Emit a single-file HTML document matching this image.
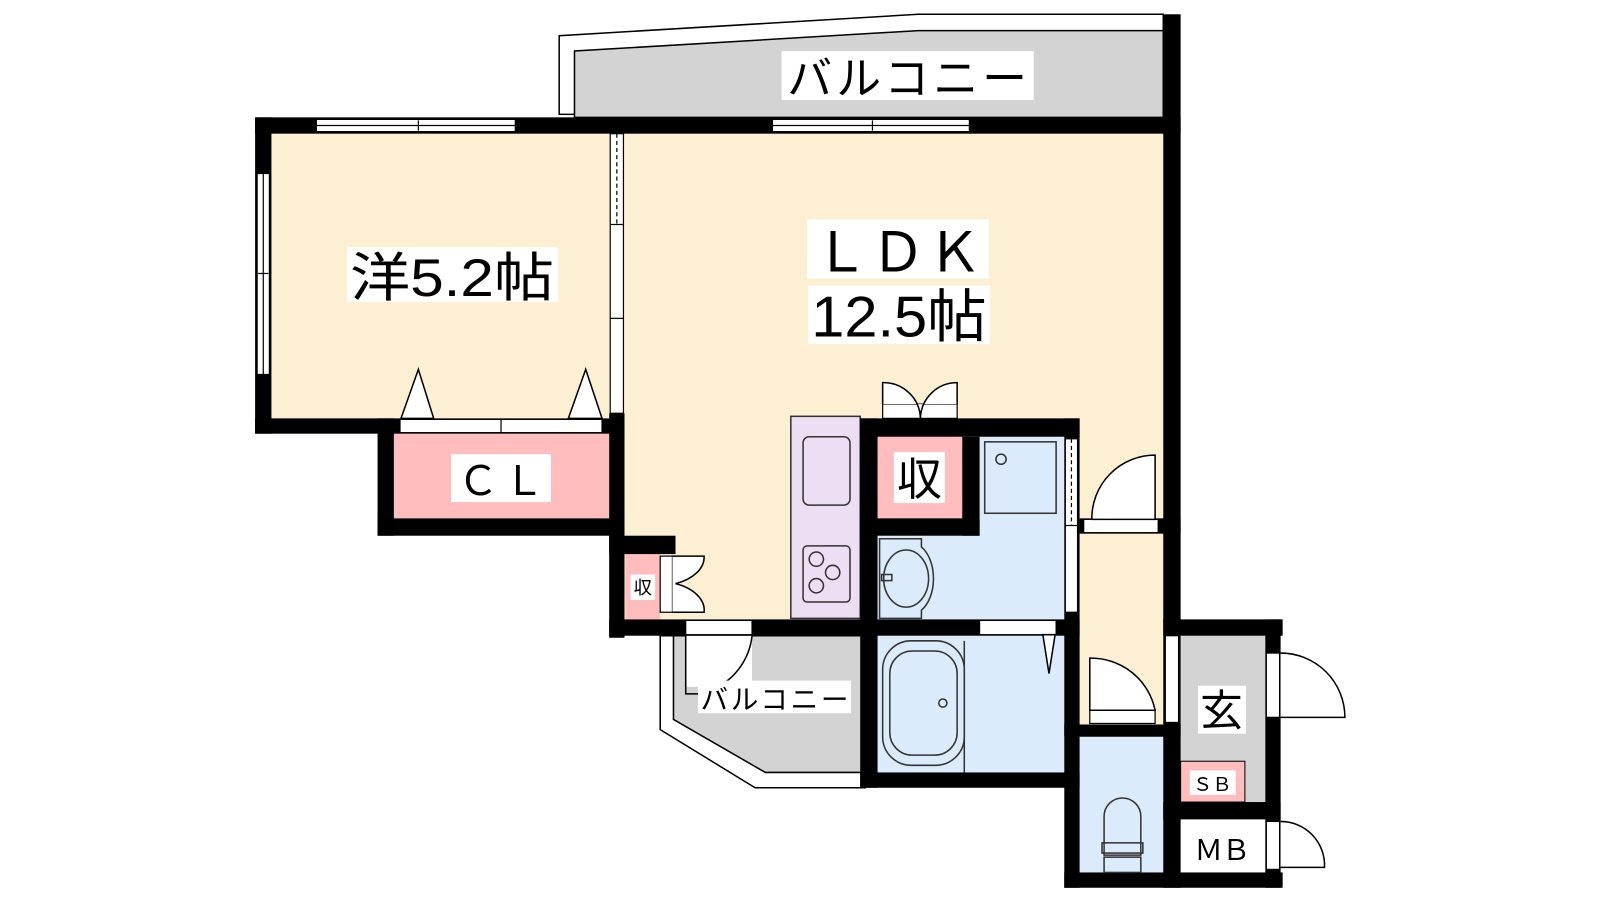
<!DOCTYPE html>
<html><head><meta charset="utf-8"><style>
html,body{margin:0;padding:0;background:#fff;}
svg{display:block}
text{font-family:"Liberation Sans","Noto Sans CJK JP",sans-serif;fill:#000}
</style></head><body>
<svg width="1600" height="900" viewBox="0 0 1568 882" preserveAspectRatio="none" xmlns="http://www.w3.org/2000/svg">
<!-- top balcony -->
<polygon points="548,112 548,35 900,14 1140,14 1140,115" fill="#fff" stroke="#000" stroke-width="1.5"/>
<polygon points="563,115 563,50 900,30 1140,30 1140,115" fill="#d3d3d3" stroke="#000" stroke-width="1.5"/>
<rect x="766" y="50" width="247" height="48" fill="#fff"/>
<text x="889" y="92" font-size="44" text-anchor="middle" textLength="235">バルコニー</text>

<!-- lower balcony -->
<polygon points="647,623 647,715 740,772 848,772 848,623" fill="#fff" stroke="#000" stroke-width="1.5"/>
<polygon points="660,623 660,705 750,757 848,757 848,623" fill="#d3d3d3" stroke="#000" stroke-width="1.5"/>
<rect x="672" y="623" width="65" height="50" fill="#fff"/>
<path d="M672,623 L672,680 L685,680 M737,623 A65,65 0 0 1 700,675" fill="none" stroke="#000" stroke-width="1.5"/>
<rect x="684" y="667" width="150" height="32" fill="#fff"/>
<text x="759" y="695" font-size="27" text-anchor="middle" textLength="145">バルコニー</text>

<!-- floors -->
<rect x="266" y="131" width="331" height="279" fill="#fdf0d2"/>
<rect x="612" y="131" width="528" height="476" fill="#fdf0d2"/>
<rect x="1058" y="508" width="82" height="202" fill="#fdf0d2"/>
<rect x="386" y="425" width="211" height="83" fill="#ffbdbd"/>
<rect x="613" y="543" width="34" height="64" fill="#ffbdbd"/>
<rect x="860" y="428" width="83" height="80" fill="#ffbdbd"/>
<path d="M960,428 H1043 V607 H860 V525 H960 Z" fill="#dcebfc"/>
<rect x="860" y="623" width="183" height="134" fill="#dcebfc"/>
<rect x="1058" y="722" width="82" height="133" fill="#dcebfc"/>
<rect x="1157" y="623" width="83" height="163" fill="#d3d3d3"/>
<rect x="1157" y="746" width="63" height="40" fill="#ffbdbd" stroke="#000" stroke-width="1"/>
<rect x="1157" y="803" width="83" height="52" fill="#fff"/>
<rect x="775" y="408" width="68" height="198" fill="#ecdff3" stroke="#333" stroke-width="1.5"/>
<rect x="787" y="428" width="46" height="67" rx="6" fill="none" stroke="#333" stroke-width="1.5"/>
<rect x="787" y="535" width="46" height="55" rx="4" fill="none" stroke="#333" stroke-width="1.5"/>
<circle cx="800" cy="548" r="7" fill="none" stroke="#333" stroke-width="1.5"/>
<circle cx="816" cy="561" r="7" fill="none" stroke="#333" stroke-width="1.5"/>
<circle cx="800" cy="574" r="7" fill="none" stroke="#333" stroke-width="1.5"/>

<!-- walls -->
<g fill="#000">
<rect x="250" y="115" width="907" height="16"/>
<rect x="1140" y="14" width="17" height="594"/>
<rect x="250" y="115" width="16" height="310"/>
<rect x="250" y="410" width="362" height="15"/>
<rect x="597" y="405" width="15" height="220"/>
<rect x="370" y="410" width="16" height="115"/>
<rect x="370" y="508" width="242" height="17"/>
<rect x="597" y="525" width="65" height="18"/>
<rect x="597" y="607" width="263" height="16"/>
<rect x="843" y="410" width="215" height="18"/>
<rect x="843" y="410" width="17" height="362"/>
<rect x="943" y="428" width="17" height="97"/>
<rect x="843" y="508" width="117" height="17"/>
<rect x="843" y="607" width="215" height="16"/>
<rect x="843" y="757" width="215" height="15"/>
<rect x="1043" y="410" width="15" height="460"/>
<rect x="1043" y="855" width="214" height="15"/>
<rect x="1043" y="710" width="114" height="12"/>
<rect x="1140" y="607" width="117" height="16"/>
<rect x="1140" y="607" width="17" height="263"/>
<rect x="1240" y="607" width="15" height="263"/>
<rect x="1140" y="786" width="115" height="17"/>
<rect x="1058" y="508" width="99" height="15"/>
</g>

<!-- windows -->
<g fill="#fff" stroke="#000" stroke-width="1.2">
<rect x="310" y="117" width="195" height="12"/>
<rect x="757" y="117" width="193" height="12"/>
<rect x="252" y="170" width="12" height="197"/>
<rect x="598" y="131" width="13" height="274"/>
<rect x="392" y="411" width="198" height="13"/>
<rect x="672" y="608" width="65" height="14"/>
<rect x="960" y="608" width="75" height="14"/>
<rect x="865" y="396" width="73" height="14"/>
<rect x="1044" y="430" width="12" height="170"/>
<rect x="1062" y="509" width="73" height="13"/>
<rect x="1068" y="696" width="64" height="13"/>
<rect x="1142" y="623" width="13" height="85"/>
<rect x="1241" y="640" width="13" height="63"/>
<rect x="1241" y="805" width="13" height="47"/>
<rect x="647" y="545" width="12" height="55"/>
</g>
<g stroke="#000" stroke-width="1.2" fill="none">
<line x1="310" y1="123" x2="505" y2="123"/><line x1="410" y1="118" x2="410" y2="128"/>
<line x1="757" y1="123" x2="950" y2="123"/><line x1="855" y1="118" x2="855" y2="128"/>
<line x1="258" y1="170" x2="258" y2="367"/><line x1="253" y1="268" x2="263" y2="268"/>
<line x1="604.5" y1="131" x2="604.5" y2="220" stroke-dasharray="4,3"/>
<line x1="598" y1="220" x2="611" y2="220"/><line x1="598" y1="312" x2="611" y2="312"/>
<line x1="491" y1="411" x2="491" y2="424"/>
<line x1="1050" y1="430" x2="1050" y2="515" stroke-dasharray="4,3"/>
<line x1="1044" y1="515" x2="1056" y2="515"/>
</g>

<!-- doors -->
<g fill="#fff" stroke="#000" stroke-width="1.5">
<polygon points="393,410 410,362 425,410"/>
<polygon points="557,410 574,362 590,410"/>
<path d="M865,396 V375 A36,36 0 0 1 902,410 A36,36 0 0 1 938,375 V396"/>
<path d="M659,545 H690 A45,28 0 0 1 662,572 A45,28 0 0 1 690,600 H659"/>
<path d="M1070,509 A62,62 0 0 1 1132,446 V509 Z"/>
<path d="M1068,696 V645 A64,64 0 0 1 1132,696 Z"/>
<path d="M1255,703 H1318 A63,63 0 0 0 1255,640"/>
<path d="M1255,805 A43,43 0 0 1 1298,850 H1255"/>
<polygon points="1022,622 1034,622 1028,660"/>
</g>

<!-- fixtures -->
<g fill="none" stroke="#333" stroke-width="1.5">
<rect x="965" y="433" width="70" height="70"/>
<circle cx="981" cy="450" r="5"/>
<path d="M862,528 H903 V536 A22,35 0 0 1 903,598 V606 H862 Z"/>
<ellipse cx="888" cy="567" rx="22" ry="28"/>
<rect x="864" y="563" width="10" height="6"/>
<rect x="865" y="628" width="80" height="122" rx="28"/>
<rect x="872" y="638" width="66" height="102" rx="22"/>
<circle cx="924" cy="689" r="4"/>
<line x1="945" y1="628" x2="945" y2="757"/>
<path d="M1082,838 V800 A18,18 0 0 1 1118,800 V838 Z"/>
<rect x="1080" y="826" width="40" height="10"/>
<rect x="1082" y="840" width="36" height="15"/>
</g>

<!-- labels -->
<rect x="340" y="242" width="207" height="54" fill="#fff"/>
<text x="443" y="290" font-size="52" text-anchor="middle" textLength="200" lengthAdjust="spacingAndGlyphs">洋5.2帖</text>
<rect x="791" y="215" width="178" height="58" fill="#fff"/>
<text x="880" y="266" font-size="54" text-anchor="middle" textLength="165">ＬＤＫ</text>
<rect x="792" y="280" width="178" height="57" fill="#fff"/>
<text x="881" y="330" font-size="56" text-anchor="middle" textLength="172" lengthAdjust="spacingAndGlyphs">12.5帖</text>
<rect x="442" y="445" width="98" height="47" fill="#fff"/>
<text x="491" y="485" font-size="40" text-anchor="middle" textLength="85">ＣＬ</text>
<rect x="876" y="443" width="50" height="50" fill="#fff"/>
<text x="901" y="485" font-size="44" text-anchor="middle">収</text>
<rect x="618" y="563" width="24" height="25" fill="#fff"/>
<text x="630" y="582" font-size="18" text-anchor="middle">収</text>
<rect x="1174" y="672" width="47" height="47" fill="#fff"/>
<text x="1197" y="711" font-size="42" text-anchor="middle">玄</text>
<rect x="1166" y="755" width="45" height="24" fill="#fff"/>
<text x="1188" y="775" font-size="19" text-anchor="middle" textLength="38">ＳＢ</text>
<text x="1198" y="843" font-size="28" text-anchor="middle" textLength="55">ＭＢ</text>
</svg>
</body></html>
